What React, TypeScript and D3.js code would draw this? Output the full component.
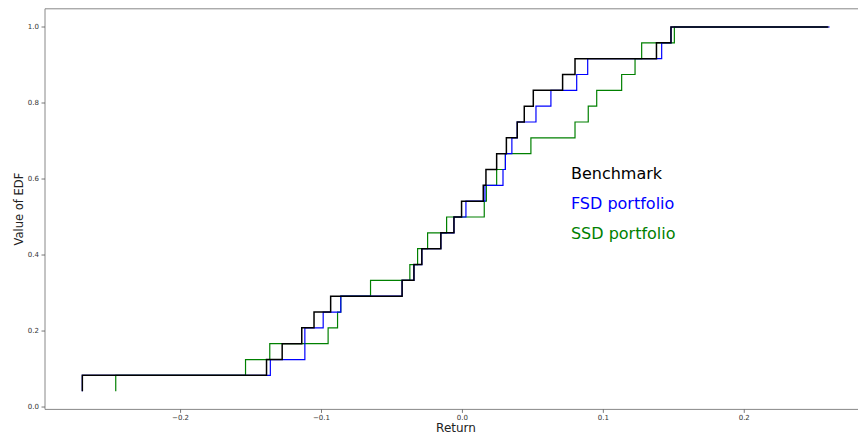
import React from "react";
import * as d3 from "d3";

// sorted returns, one per observation (24 each)
const benchmarkReturns = [
  -0.2697, -0.139, -0.1279, -0.114, -0.1053, -0.0935, -0.0428, -0.0344,
  -0.0288, -0.0153, -0.006, -0.0006, 0.0148, 0.0167, 0.0243, 0.0312,
  0.0389, 0.0439, 0.0503, 0.0711, 0.0799, 0.1377, 0.148, 0.2597,
];
const fsdReturns = [
  -0.2697, -0.1363, -0.1118, -0.1118, -0.0988, -0.0863, -0.0428, -0.0344,
  -0.0288, -0.0153, -0.006, 0.0025, 0.016, 0.0288, 0.0305, 0.0351,
  0.0389, 0.0522, 0.0628, 0.0811, 0.0889, 0.1414, 0.148, 0.2606,
];
const ssdReturns = [
  -0.246, -0.1539, -0.1367, -0.0953, -0.0886, -0.0863, -0.0652, -0.0373,
  -0.0318, -0.0247, -0.0112, 0.0155, 0.017, 0.0243, 0.0305, 0.0486,
  0.0799, 0.0893, 0.0953, 0.113, 0.1225, 0.1272, 0.1504, 0.259,
];

const seriesNames = ["Benchmark", "FSD portfolio", "SSD portfolio"];
const seriesColors = ["black", "blue", "green"];
const labelY = [0.6, 0.522, 0.443];
const labelX = 0.077;

const xTicks = [-0.2, -0.1, 0.0, 0.1, 0.2];
const yTicks = [0.0, 0.2, 0.4, 0.6, 0.8, 1.0];

const W = 858;
const H = 436;
const margin = { left: 45, top: 8.8, right: 867, bottom: 409.4 };
const font = "'DejaVu Sans', sans-serif";

export default function App() {
  const x = d3.scaleLinear().domain([-0.2962, 0.2871]).range([margin.left, margin.right]);
  const y = d3.scaleLinear().domain([-0.0062, 1.0479]).range([margin.bottom, margin.top]);
  const fmt = d3.format(".1f");

  const series = [benchmarkReturns, fsdReturns, ssdReturns];
  // EDF points: i-th sorted return at level (i+1)/n
  const line = d3
    .line<[number, number]>()
    .x((d) => x(d[0]))
    .y((d) => y(d[1]))
    .curve(d3.curveStepBefore);
  const paths = series.map((s) => line(s.map((v, i) => [v, (i + 1) / s.length])));
  const drawOrder = [2, 1, 0];
  const widths = [1.5, 1.2, 1.2];

  return (
    <svg
      width={W}
      height={H}
      style={{ position: "absolute", left: 0, top: 0, background: "white" }}
      fontFamily={font}
    >
      <defs>
        <clipPath id="plot">
          <rect x={margin.left} y={margin.top} width={margin.right - margin.left} height={margin.bottom - margin.top} />
        </clipPath>
      </defs>
      <g clipPath="url(#plot)">
        {drawOrder.map((k) => (
          <path key={k} d={paths[k] || ""} fill="none" stroke={seriesColors[k]} strokeWidth={widths[k]} />
        ))}
      </g>
      {/* spines */}
      <line x1={margin.left} x2={W} y1={margin.top} y2={margin.top} stroke="#888" strokeWidth={1} />
      <line x1={margin.left} x2={W} y1={margin.bottom} y2={margin.bottom} stroke="#888" strokeWidth={1} />
      <line x1={margin.left} x2={margin.left} y1={margin.top} y2={margin.bottom} stroke="#888" strokeWidth={1} />
      {xTicks.map((t) => (
        <g key={t} transform={`translate(${x(t)},${margin.bottom})`}>
          <line y1={0} y2={3.5} stroke="#555" strokeWidth={0.8} />
          <text y={11} textAnchor="middle" fontSize={7} fill="#333">
            {fmt(t)}
          </text>
        </g>
      ))}
      {yTicks.map((t) => (
        <g key={t} transform={`translate(${margin.left},${y(t)})`}>
          <line x1={0} x2={-3.5} stroke="#555" strokeWidth={0.8} />
          <text x={-6} dy="0.35em" textAnchor="end" fontSize={7} fill="#333">
            {fmt(t)}
          </text>
        </g>
      ))}
      <text x={(margin.left + margin.right) / 2} y={432} textAnchor="middle" fontSize={12} fill="#222">
        Return
      </text>
      <text
        transform={`translate(23,${(margin.top + margin.bottom) / 2}) rotate(-90)`}
        textAnchor="middle"
        fontSize={11.5}
        fill="#222"
      >
        Value of EDF
      </text>
      {seriesNames.map((n, i) => (
        <text key={n} x={x(labelX)} y={y(labelY[i])} fontSize={16} fill={seriesColors[i]}>
          {n}
        </text>
      ))}
    </svg>
  );
}
